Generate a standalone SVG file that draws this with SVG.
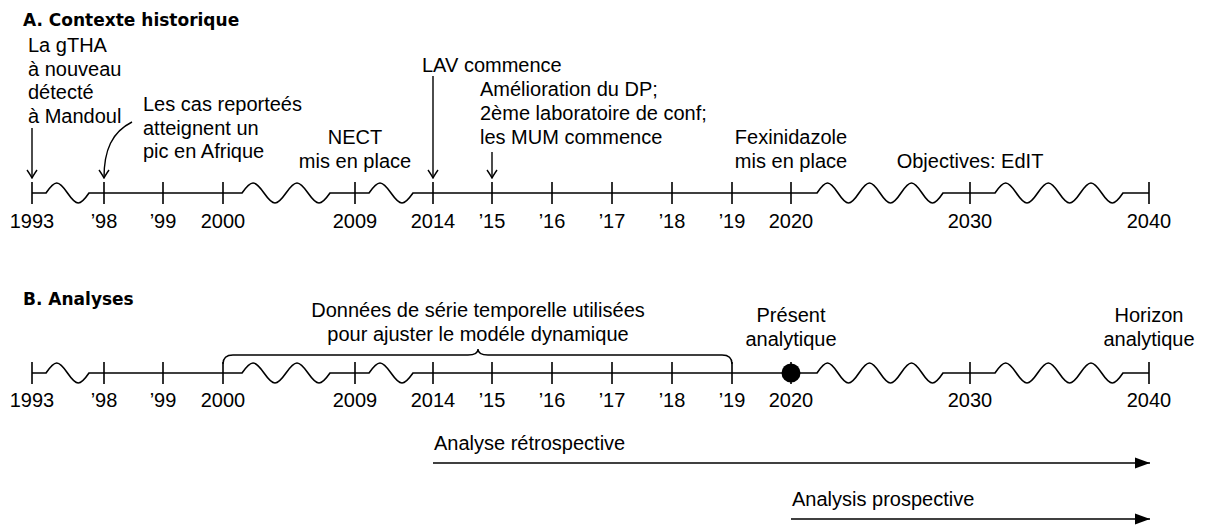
<svg xmlns="http://www.w3.org/2000/svg" width="1205" height="526" viewBox="0 0 1205 526">
<style>
text{font-family:"Liberation Sans",Arial,sans-serif;font-size:20px;fill:#000}
.t{font-family:"DejaVu Sans",sans-serif;font-weight:bold;font-size:17px}
.m{text-anchor:middle}
.ax{fill:none;stroke:#000;stroke-width:1.6}
.ar{fill:none;stroke:#000;stroke-width:1.4}
</style>
<defs>
<marker id="ch" viewBox="-9 -6 10 12" markerWidth="10" markerHeight="12" refX="0" refY="0" orient="auto" markerUnits="userSpaceOnUse">
<path d="M-8,-5 Q-2.5,-1.2 0,0 Q-2.5,1.2 -8,5" fill="none" stroke="#000" stroke-width="1.4"/>
</marker>
<marker id="tri" viewBox="-16 -7 17 14" markerWidth="17" markerHeight="14" refX="0" refY="0" orient="auto" markerUnits="userSpaceOnUse">
<path d="M0,0 L-15,-5.5 L-15,5.5 Z" fill="#000"/>
</marker>
</defs>

<g id="sectionA-title"><text class="t" x="23" y="26">A. Contexte historique</text></g>

<g id="timelineA">
<path class="ax" d="M32,193 H46 c9.12,-13.33 12.38,-13.33 21.5,0 s12.38,13.33 21.5,0 H242 c9.34,-13.33 12.66,-13.33 22,0 s12.66,13.33 22,0 s12.66,-13.33 22,0 s12.66,13.33 22,0 H369 c9.34,-13.33 12.66,-13.33 22,0 s12.66,13.33 22,0 H817 c8.91,-13.33 12.09,-13.33 21,0 s12.09,13.33 21,0 s12.09,-13.33 21,0 s12.09,13.33 21,0 s12.09,-13.33 21,0 s12.09,13.33 21,0 H995 c9.05,-13.33 12.28,-13.33 21.33,0 s12.28,13.33 21.33,0 s12.28,-13.33 21.33,0 s12.28,13.33 21.33,0 s12.28,-13.33 21.33,0 s12.28,13.33 21.33,0 H1149"/>
<path class="ax" d="M32,182v22M104,182v22M163,182v22M223,182v22M355,182v22M433,182v22M492,182v22M552,182v22M612,182v22M672,182v22M732,182v22M791,182v22M970,182v22M1149,182v22"/>
<text class="m" x="32" y="228">1993</text>
<text class="m" x="104" y="228">’98</text>
<text class="m" x="163" y="228">’99</text>
<text class="m" x="223" y="228">2000</text>
<text class="m" x="355" y="228">2009</text>
<text class="m" x="433" y="228">2014</text>
<text class="m" x="492" y="228">’15</text>
<text class="m" x="552" y="228">’16</text>
<text class="m" x="612" y="228">’17</text>
<text class="m" x="672" y="228">’18</text>
<text class="m" x="732" y="228">’19</text>
<text class="m" x="791" y="228">2020</text>
<text class="m" x="970" y="228">2030</text>
<text class="m" x="1149" y="228">2040</text>
</g>

<g id="ev-gtha"><text x="28" y="52">La gTHA<tspan x="28" dy="23.7">à nouveau</tspan><tspan x="28" dy="23.7">détecté</tspan><tspan x="28" dy="23.7">à Mandoul</tspan></text></g>
<g id="ev-pic"><text x="143" y="111">Les cas reporteés<tspan x="143" dy="23.7">atteignent un</tspan><tspan x="143" dy="23.7">pic en Afrique</tspan></text></g>
<g id="ev-nect"><text class="m" x="355" y="144">NECT<tspan x="355" dy="24">mis en place</tspan></text></g>
<g id="ev-lav"><text x="422" y="72">LAV commence</text></g>
<g id="ev-dp"><text x="480" y="96">Amélioration du DP;<tspan x="480" dy="24">2ème laboratoire de conf;</tspan><tspan x="480" dy="24">les MUM commence</tspan></text></g>
<g id="ev-fexi"><text class="m" x="791" y="144">Fexinidazole<tspan x="791" dy="24">mis en place</tspan></text></g>
<g id="ev-edit"><text class="m" x="970" y="168">Objectives: EdIT</text></g>

<g id="sectionB-title"><text class="t" x="23" y="305">B. Analyses</text></g>

<g id="timelineB">
<path class="ax" d="M32,373 H46 c9.12,-13.33 12.38,-13.33 21.5,0 s12.38,13.33 21.5,0 H242 c9.34,-13.33 12.66,-13.33 22,0 s12.66,13.33 22,0 s12.66,-13.33 22,0 s12.66,13.33 22,0 H369 c9.34,-13.33 12.66,-13.33 22,0 s12.66,13.33 22,0 H817 c8.91,-13.33 12.09,-13.33 21,0 s12.09,13.33 21,0 s12.09,-13.33 21,0 s12.09,13.33 21,0 s12.09,-13.33 21,0 s12.09,13.33 21,0 H995 c9.05,-13.33 12.28,-13.33 21.33,0 s12.28,13.33 21.33,0 s12.28,-13.33 21.33,0 s12.28,13.33 21.33,0 s12.28,-13.33 21.33,0 s12.28,13.33 21.33,0 H1149"/>
<path class="ax" d="M32,362v22M104,362v22M163,362v22M223,362v22M355,362v22M433,362v22M492,362v22M552,362v22M612,362v22M672,362v22M732,362v22M791,362v22M970,362v22M1149,362v22"/>
<text class="m" x="32" y="407">1993</text>
<text class="m" x="104" y="407">’98</text>
<text class="m" x="163" y="407">’99</text>
<text class="m" x="223" y="407">2000</text>
<text class="m" x="355" y="407">2009</text>
<text class="m" x="433" y="407">2014</text>
<text class="m" x="492" y="407">’15</text>
<text class="m" x="552" y="407">’16</text>
<text class="m" x="612" y="407">’17</text>
<text class="m" x="672" y="407">’18</text>
<text class="m" x="732" y="407">’19</text>
<text class="m" x="791" y="407">2020</text>
<text class="m" x="970" y="407">2030</text>
<text class="m" x="1149" y="407">2040</text>
</g>

<g id="present-dot"><circle cx="791" cy="373" r="9.5" fill="#000"/></g>

<g id="brace-data">
<path class="ar" d="M223,364 q0,-9 10,-9 H468 q10,0 10,-6 q0,6 10,6 H722 q10,0 10,9"/>
<text class="m" x="478" y="317">Données de série temporelle utilisées<tspan x="478" dy="24">pour ajuster le modéle dynamique</tspan></text>
</g>
<g id="present"><text class="m" x="791" y="322">Présent<tspan x="791" dy="24">analytique</tspan></text></g>
<g id="horizon"><text class="m" x="1149" y="322">Horizon<tspan x="1149" dy="24">analytique</tspan></text></g>
<g id="retro"><text x="434" y="450">Analyse rétrospective</text></g>
<g id="prosp"><text x="792" y="506">Analysis prospective</text></g>

<g id="connectors">
<path class="ar" d="M32,128 V178" marker-end="url(#ch)"/>
<path class="ar" d="M132,122 C112,132 104,150 104,178" marker-end="url(#ch)"/>
<path class="ar" d="M433,76 V178" marker-end="url(#ch)"/>
<path class="ar" d="M492,152 V178" marker-end="url(#ch)"/>
<path class="ar" d="M433,463 H1150" marker-end="url(#tri)"/>
<path class="ar" d="M791,519 H1150" marker-end="url(#tri)"/>
</g>
</svg>
